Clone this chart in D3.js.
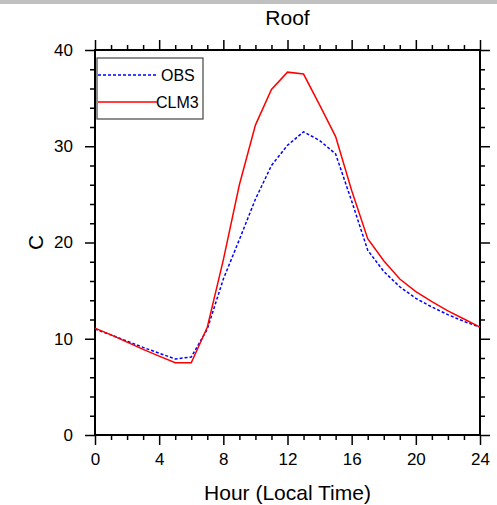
<!DOCTYPE html>
<html>
<head>
<meta charset="utf-8">
<script src="https://cdn.jsdelivr.net/npm/d3@7"></script>
<style>
	body { margin: 0; background: #fff; }
	svg { display: block; font-family: "Liberation Sans", Arial, sans-serif; }
</style>
</head>
<body>
<svg id="chart" width="497" height="505"></svg>
<script>
// hourly values
var hours = d3.range(0, 25);
var obs = [11.0, 10.4, 9.75, 9.1, 8.5, 7.9, 8.1, 11.0, 16.2, 20.3, 24.5, 28.0, 30.1, 31.5, 30.6, 29.2,
	24.3, 19.2, 17.0, 15.4, 14.2, 13.3, 12.5, 11.8, 11.2];
var clm3 = [11.1, 10.4, 9.65, 8.9, 8.2, 7.5, 7.5, 11.2, 18.2, 26.0, 32.2, 35.9, 37.7, 37.5, 34.3, 31.0,
	25.4, 20.4, 18.1, 16.2, 14.9, 13.85, 12.9, 12.05, 11.2];
var xTicks = [0, 4, 8, 12, 16, 20, 24];
var yTicks = [0, 10, 20, 30, 40];

var series = [
	{name: 'OBS', values: obs, color: '#0000ff', dash: '3,2'},
	{name: 'CLM3', values: clm3, color: '#ff0000', dash: null}
];

var svg = d3.select('#chart');
var m = {left: 95, right: 17, top: 50, bottom: 70};
var w = 497 - m.left - m.right, h = 505 - m.top - m.bottom;

// grey strip on top
svg.append('rect').attr('x', 0).attr('y', 0).attr('width', 497).attr('height', 4).attr('fill', '#c0c0c0');

var x = d3.scaleLinear().domain([0, 24]).range([0, w]);
var y = d3.scaleLinear().domain([0, 40]).range([h, 0]);

var g = svg.append('g').attr('transform', 'translate(' + m.left + ',' + m.top + ')');

// minor ticks first, majors on top
var minorX = d3.range(0, 25).filter((d) => d % 4);
var minorY = d3.range(0, 41, 2).filter((d) => d % 10);

var axisStyle = (sel) => {
	sel.select('.domain').remove();
	sel.selectAll('line').attr('stroke', '#000').attr('stroke-width', 1.5);
	sel.selectAll('text').attr('fill', '#000').style('font-size', '17px');
};

g.append('g').attr('transform', 'translate(0,' + h + ')')
	.call(d3.axisBottom(x).tickValues(minorX).tickSize(5).tickFormat(''))
	.call(axisStyle);
g.append('g')
	.call(d3.axisTop(x).tickValues(minorX).tickSize(5).tickFormat(''))
	.call(axisStyle);
g.append('g')
	.call(d3.axisLeft(y).tickValues(minorY).tickSize(5).tickFormat(''))
	.call(axisStyle);
g.append('g').attr('transform', 'translate(' + w + ',0)')
	.call(d3.axisRight(y).tickValues(minorY).tickSize(5).tickFormat(''))
	.call(axisStyle);

g.append('g').attr('transform', 'translate(0,' + h + ')')
	.call(d3.axisBottom(x).tickValues(xTicks).tickSize(10).tickPadding(8))
	.call(axisStyle);
g.append('g')
	.call(d3.axisTop(x).tickValues(xTicks).tickSize(10).tickFormat(''))
	.call(axisStyle);
g.append('g')
	.call(d3.axisLeft(y).tickValues(yTicks).tickSize(10).tickPadding(12))
	.call(axisStyle);
g.append('g').attr('transform', 'translate(' + w + ',0)')
	.call(d3.axisRight(y).tickValues(yTicks).tickSize(10).tickFormat(''))
	.call(axisStyle);

// frame
g.append('rect').attr('width', w).attr('height', h)
	.attr('fill', 'none').attr('stroke', '#000').attr('stroke-width', 2);

var line = d3.line().x((d, i) => x(hours[i])).y((d) => y(d));

g.selectAll('path.series').data(series).enter().append('path')
	.attr('class', 'series')
	.attr('d', (d) => line(d.values))
	.attr('fill', 'none')
	.attr('stroke', (d) => d.color)
	.attr('stroke-width', 1.5)
	.attr('stroke-dasharray', (d) => d.dash);

// legend
var lg = g.append('g').attr('transform', 'translate(2,8)');
lg.append('rect').attr('width', 106).attr('height', 61)
	.attr('fill', '#fff').attr('stroke', '#444').attr('stroke-width', 1.2);
var item = lg.selectAll('g.item').data(series).enter().append('g')
	.attr('class', 'item')
	.attr('transform', (d, i) => 'translate(0,' + (17 + i * 27) + ')');
item.append('line').attr('x1', 1).attr('x2', 61).attr('y1', 0).attr('y2', 0)
	.attr('stroke', (d) => d.color).attr('stroke-width', 1.5)
	.attr('stroke-dasharray', (d) => d.dash);
item.append('text')
	.attr('x', (d, i) => i ? 59 : 64).attr('y', 6)
	.style('font-size', '16px')
	.text((d) => d.name);

// titles
svg.append('text').attr('x', m.left + w / 2).attr('y', 25)
	.attr('text-anchor', 'middle').style('font-size', '21px').text('Roof');
svg.append('text').attr('x', m.left + w / 2).attr('y', 500)
	.attr('text-anchor', 'middle').style('font-size', '21px').text('Hour (Local Time)');
svg.append('text').attr('transform', 'translate(43,' + (m.top + h / 2) + ') rotate(-90)')
	.attr('text-anchor', 'middle').style('font-size', '21px').text('C');
</script>
</body>
</html>
